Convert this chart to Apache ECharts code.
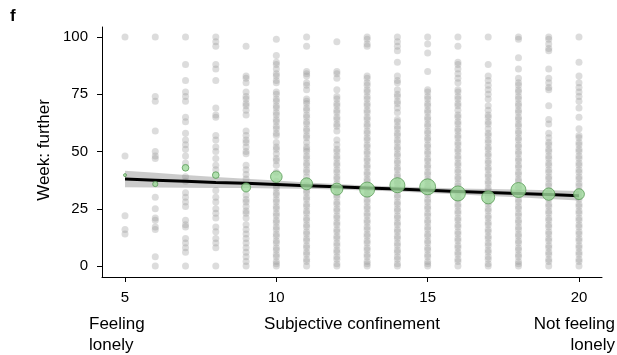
<!DOCTYPE html>
<html>
<head>
<meta charset="utf-8">
<script src="https://cdn.jsdelivr.net/npm/echarts@6/dist/echarts.min.js"></script>
<style>
html,body{margin:0;padding:0;background:#fff;}
#chart{width:617px;height:355px;}
</style>
</head>
<body>
<div id="chart"></div>
<script>
// ---- data ----
var xTicks = [5, 10, 15, 20];
var yTicks = [0, 25, 50, 75, 100];
var col5  = [100,48,22,16,14];
var col6  = [100,74,72,59,50,48,47,30,25,21,20,17,16,4,0];
var col7  = [100,88,81,76,74,72,65,63,58,55,53,51,48,45,39,37,32,30,28,26,20,18,17,12,10,8,6,0];
var col8  = [100,98,96,88,86,81,69,66,65,57,55,52,50,47,44,42,33,30,28,25,23,21,17,15,12,10,8,0];
var col9  = [96,83,82,80,76,74,73,71,70,68,66,59,57,55,54,52,50,49,44,42,40,38,31,29,28,26,24,23,21,18,16,14,12,10,8,6,4,2,0];
var col10 = [99,92,89,88,86,84,83,81,80,76,75,73,72,70,69,67,66,64,63,61,60,58,57,54,52,51,49,47,46,44,41,37,35,34,32,31,29,28,26,25,23,22,20,19,17,16,14,13,11,10,8,7,5,4,2,1,0];
var col11 = [100,96,85,84,83,80,79,77,73,72,71,69,68,66,65,63,62,60,59,57,56,54,52,51,50,48,47,45,44,42,41,39,37,35,33,32,30,29,27,26,24,23,21,20,18,17,15,14,12,11,9,8,6,5,3,2,0];
var col12 = [98,85,84,82,77,74,73,71,70,68,67,65,64,62,61,59,55,53,51,50,48,47,45,44,42,41,39,38,36,34,33,31,30,28,27,25,24,22,21,19,18,16,15,13,12,10,9,7,6,4,3,1,0];
var col13 = [100,99,97,96,83,82,80,79,77,76,74,73,71,70,68,67,65,64,62,61,59,58,56,55,53,52,50,49,47,46,44,43,41,40,38,37,35,34,32,31,29,28,26,25,23,22,20,19,17,16,14,13,11,10,8,7,5,4,2,1,0];
var col14 = [100,98,96,94,89,83,81,80,77,75,74,72,71,69,67,64,63,61,60,58,57,55,54,52,51,49,48,46,45,43,42,40,39,37,36,34,33,31,30,28,27,25,24,22,21,19,18,16,15,13,12,10,9,7,6,4,3,1,0];
var col15 = [100,97,93,85,77,76,74,73,71,70,68,67,65,64,62,61,59,58,56,55,53,52,50,49,47,46,44,43,41,40,38,37,35,34,32,31,29,28,26,25,23,22,20,19,17,16,14,13,11,10,8,7,5,4,2,1,0];
var col16 = [100,96,89,88,86,84,82,80,77,76,74,73,71,70,68,66,65,63,62,60,59,57,56,54,53,51,50,48,47,45,44,42,41,39,38,36,35,33,32,30,29,27,26,24,23,21,20,18,17,15,14,12,11,9,8,6,5,3,2,0];
var col17 = [100,88,83,81,79,77,75,73,70,68,66,65,63,62,60,58,57,55,54,52,51,49,48,46,45,43,42,40,39,37,36,34,33,31,30,28,27,25,24,22,21,19,18,16,15,13,12,10,9,7,6,4,3,1,0];
var col18 = [100,99,91,86,82,80,79,77,76,74,73,71,70,68,67,65,64,62,61,59,58,56,55,53,52,50,49,47,46,44,43,41,40,38,37,35,34,32,31,29,28,26,25,23,22,20,19,17,16,14,13,11,10,8,7,5,4,2,1,0];
var col19 = [100,99,97,95,94,86,82,80,78,77,70,64,62,58,56,54,53,51,50,48,47,45,44,42,41,39,38,36,35,33,32,30,29,27,26,24,23,21,20,18,17,15,14,12,11,9,8,6,5,3,2,0];
var col20 = [100,89,83,80,78,76,74,72,69,65,60,57,56,54,53,51,50,48,47,45,44,42,41,39,38,36,35,33,32,30,29,27,26,24,23,21,20,18,17,15,14,12,11,9,8,6,5,3,2,0];
var columns = [col5,col6,col7,col8,col9,col10,col11,col12,col13,col14,col15,col16,col17,col18,col19,col20];
var colX = [5,6,7,8,9,10,11,12,13,14,15,16,17,18,19,20];

var meanY = [39.7,35.8,42.9,39.7,34.3,39.0,35.9,33.6,33.4,35.3,34.6,31.7,30.0,33.2,31.4,31.4];
var meanN = [1,3,5,5,9,15,16,16,25,25,28,25,19,25,17,13];

var fitX  = [5,6,7,8,9,10,11,12,13,14,15,16,17,18,19,20];
var fitY  = [38.0,37.5,37.0,36.5,36.1,35.6,35.1,34.6,34.1,33.6,33.1,32.6,32.1,31.7,31.2,30.7];
var fitLo = [34.4,34.3,34.2,34.1,34.1,33.9,33.7,33.4,33.0,32.5,31.9,31.3,30.6,30.0,29.3,28.6];
var fitHi = [41.6,40.7,39.8,38.9,38.1,37.3,36.5,35.8,35.2,34.7,34.3,33.9,33.6,33.4,33.1,32.8];

// ---- build ----
var dots = [];
columns.forEach(function(col, i){ col.forEach(function(v){ dots.push([colX[i], v]); }); });
var means = meanY.map(function(v, i){ return [colX[i], v, meanN[i]]; });
var fitLine = fitX.map(function(x, i){ return [x, fitY[i]]; });
var bandData = fitX.map(function(x, i){ return [x, fitLo[i], fitHi[i]]; });

var FONT = '"Liberation Sans", Arial, Helvetica, sans-serif';
var chart = echarts.init(document.getElementById('chart'), null, {renderer: 'canvas'});
chart.setOption({
  animation: false,
  backgroundColor: '#fff',
  grid: {left: 102, right: 15, top: 27, bottom: 78},
  xAxis: {
    type: 'value', min: 4.24, max: 20.76,
    splitLine: {show: false},
    axisLine: {show: true, onZero: false, lineStyle: {color: '#000', width: 1}},
    axisTick: {show: true, length: 5, lineStyle: {color: '#000'}, customValues: xTicks},
    axisLabel: {color: '#000', fontSize: 15, fontFamily: FONT, margin: 13, customValues: xTicks}
  },
  yAxis: {
    type: 'value', min: -4.8, max: 104.4,
    splitLine: {show: false},
    axisLine: {show: true, onZero: false, lineStyle: {color: '#000', width: 1}},
    axisTick: {show: true, length: 5, lineStyle: {color: '#000'}, customValues: yTicks},
    axisLabel: {color: '#000', fontSize: 15, fontFamily: FONT, margin: 14, customValues: yTicks}
  },
  series: [
    {
      type: 'scatter', silent: true, data: dots, symbolSize: 7,
      itemStyle: {color: 'rgba(150,150,150,0.42)'}, z: 1
    },
    {
      type: 'custom', silent: true, z: 2, data: bandData,
      renderItem: function(params, api){
        if (params.dataIndex !== 0) return null;
        var pts = [];
        for (var i = 0; i < bandData.length; i++) pts.push(api.coord([bandData[i][0], bandData[i][2]]));
        for (var j = bandData.length - 1; j >= 0; j--) pts.push(api.coord([bandData[j][0], bandData[j][1]]));
        return {type: 'polygon', shape: {points: pts}, style: {fill: 'rgba(140,140,140,0.45)'}};
      }
    },
    {
      type: 'line', silent: true, data: fitLine, symbol: 'none', z: 3,
      lineStyle: {color: '#000', width: 3}
    },
    {
      type: 'scatter', silent: true, data: means, z: 4,
      symbolSize: function(v){ return Math.sqrt(v[2]) * 3; },
      itemStyle: {color: '#9ed89b', borderColor: '#5a9b57', borderWidth: 1}
    }
  ],
  graphic: [
    {type: 'text', left: 10, top: 8, style: {text: 'f', font: 'bold 17px ' + FONT, fill: '#000'}},
    {type: 'text', x: 44, y: 150, rotation: Math.PI / 2,
      style: {text: 'Week: further', font: '17px ' + FONT, fill: '#000', align: 'center', verticalAlign: 'middle'}},
    {type: 'text', x: 89, y: 324, style: {text: 'Feeling', font: '17px ' + FONT, fill: '#000', align: 'left', verticalAlign: 'middle'}},
    {type: 'text', x: 89, y: 345, style: {text: 'lonely', font: '17px ' + FONT, fill: '#000', align: 'left', verticalAlign: 'middle'}},
    {type: 'text', x: 352, y: 324, style: {text: 'Subjective confinement', font: '17px ' + FONT, fill: '#000', align: 'center', verticalAlign: 'middle'}},
    {type: 'text', x: 615, y: 324, style: {text: 'Not feeling', font: '17px ' + FONT, fill: '#000', align: 'right', verticalAlign: 'middle'}},
    {type: 'text', x: 615, y: 345, style: {text: 'lonely', font: '17px ' + FONT, fill: '#000', align: 'right', verticalAlign: 'middle'}}
  ]
});
</script>
</body>
</html>
